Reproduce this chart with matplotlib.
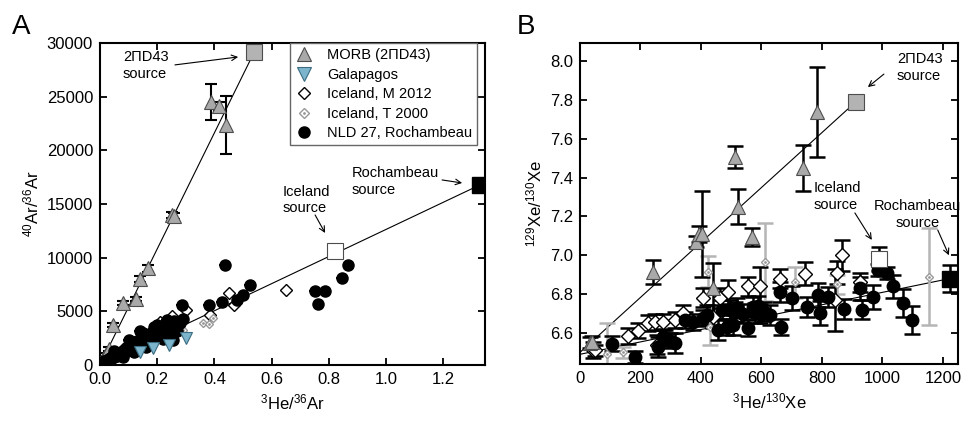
import numpy as np
import matplotlib.pyplot as plt
from matplotlib.lines import Line2D

plt.rcParams['font.family'] = ['Liberation Sans', 'DejaVu Sans']
plt.rcParams['mathtext.fontset'] = 'custom'
plt.rcParams['mathtext.rm'] = 'Liberation Sans'
plt.rcParams['mathtext.it'] = 'Liberation Sans:italic'

# ---------------- panel A : 40Ar/36Ar vs 3He/36Ar ----------------
morb_a_x = [0.005, 0.012, 0.02, 0.03, 0.046, 0.08, 0.126, 0.14, 0.168, 0.25, 0.26, 0.388, 0.415, 0.44]
morb_a_y = [300, 600, 1000, 1500, 3700, 5780, 6150, 8000, 9000, 14000, 13900, 24500, 24100, 22400]
morb_a_yerr = [100, 100, 150, 200, 200, 200, 200, 250, 300, 300, 300, 1700, 400, 2700]

gal_a_x = [0.14, 0.185, 0.24, 0.30]
gal_a_y = [1200, 1600, 1850, 2500]

icem_a_x = [0.005, 0.01, 0.02, 0.04, 0.06, 0.08, 0.1, 0.12, 0.15, 0.17, 0.21, 0.25, 0.30, 0.385, 0.45, 0.47, 0.65]
icem_a_y = [100, 300, 500, 800, 1100, 1500, 1800, 2000, 2500, 2900, 4000, 4570, 5100, 4650, 6700, 5600, 7000]

icet_a_x = [0.02, 0.05, 0.29, 0.36, 0.38, 0.395]
icet_a_y = [300, 700, 3300, 3900, 3800, 4350]

nld_a_x = [0.01, 0.015, 0.02, 0.025, 0.03, 0.035, 0.04, 0.045, 0.05, 0.055, 0.06, 0.065, 0.07,
           0.075, 0.08, 0.085, 0.09, 0.10, 0.105, 0.11, 0.12, 0.125, 0.13, 0.14, 0.145, 0.15,
           0.16, 0.17, 0.175, 0.18, 0.19, 0.20, 0.21, 0.22, 0.225, 0.23, 0.24, 0.245, 0.25,
           0.255, 0.26, 0.265, 0.27, 0.28, 0.29, 0.285, 0.38, 0.425, 0.437, 0.48, 0.50, 0.525,
           0.75, 0.785, 0.763, 0.845, 0.868,
           0.05, 0.08, 0.10, 0.12, 0.15, 0.16, 0.18, 0.20, 0.22, 0.19, 0.235]
nld_a_y = [200, 350, 250, 500, 400, 650, 550, 800, 700, 900, 800, 1000, 1100,
           950, 1300, 1150, 1500, 1400, 1700, 1550, 1900, 1700, 2200, 3200, 2000, 2500,
           2300, 2700, 2400, 3000, 2700, 3300, 2900, 3500, 3100, 2600, 3800, 3300, 2900,
           2300, 4100, 3600, 3200, 3900, 4300, 5600, 5600, 5900, 9300, 6100, 6500, 7450,
           6900, 6900, 5700, 8100, 9300,
           1300, 700, 2300, 1200, 3000, 1700, 2000, 3700, 2400, 3500, 4200]

# source end-members A
src_a_x = [0.54, 0.82, 1.33]
src_a_y = [29200, 10600, 16800]

# ---------------- panel B : 129Xe/130Xe vs 3He/130Xe ----------------
morb_b_x = [33, 40, 242, 385, 395, 402, 440, 512, 522, 569, 737, 783]
morb_b_y = [6.55, 6.554, 6.914, 7.07, 7.11, 7.11, 6.83, 7.506, 7.25, 7.094, 7.449, 7.737]
morb_b_yerr = [0.03, 0.03, 0.06, 0.03, 0.04, 0.22, 0.13, 0.055, 0.09, 0.045, 0.12, 0.23]

icem_b_x = [43, 50, 159, 192, 225, 248, 253, 274, 314, 341, 407, 440, 463, 489, 555, 595,
            661, 744, 843, 850, 866, 926]
icem_b_y = [6.513, 6.51, 6.585, 6.612, 6.651, 6.657, 6.54, 6.657, 6.667, 6.703, 6.782, 6.683,
            6.78, 6.81, 6.84, 6.84, 6.88, 6.906, 6.77, 6.91, 7.0, 6.86]
icem_b_yerr = [0.04, 0.03, 0.04, 0.04, 0.04, 0.04, 0.05, 0.04, 0.04, 0.04, 0.05, 0.06,
               0.05, 0.06, 0.05, 0.10, 0.05, 0.06, 0.16, 0.06, 0.08, 0.05]

icet_b_x = [89, 142, 423, 430, 612, 711, 850, 1154]
icet_b_y = [6.49, 6.50, 6.915, 6.63, 6.965, 6.86, 6.85, 6.89]
icet_b_yerr = [0.16, 0.03, 0.08, 0.09, 0.20, 0.08, 0.05, 0.25]

nld_b_x = [106, 182, 258, 274, 281, 298, 314, 347, 374, 407, 420, 456, 470, 486, 496, 506,
           512, 520, 540, 555, 572, 578, 590, 595, 610, 628, 661, 665, 701, 750, 787, 793,
           820, 873, 926, 932, 968, 985, 1015, 1035, 1068, 1097]
nld_b_y = [6.545, 6.476, 6.527, 6.58, 6.574, 6.56, 6.548, 6.667, 6.657, 6.677, 6.693, 6.615,
           6.72, 6.63, 6.718, 6.64, 6.708, 6.73, 6.70, 6.625, 6.734, 6.703, 6.74, 6.70, 6.71,
           6.693, 6.81, 6.63, 6.78, 6.734, 6.796, 6.703, 6.785, 6.724, 6.83, 6.72, 6.785,
           6.925, 6.909, 6.84, 6.754, 6.667]
nld_b_yerr = [0.04, 0.03, 0.05, 0.04, 0.04, 0.04, 0.05, 0.04, 0.04, 0.04, 0.05, 0.05,
              0.05, 0.04, 0.05, 0.05, 0.05, 0.05, 0.05, 0.04, 0.05, 0.05, 0.05, 0.05, 0.05,
              0.05, 0.05, 0.04, 0.06, 0.05, 0.06, 0.06, 0.05, 0.05, 0.06, 0.05, 0.06,
              0.03, 0.03, 0.06, 0.07, 0.07]

src_b_x = [912, 989, 1223]
src_b_y = [7.79, 6.98, 6.88]
src_b_yerr = [0.0, 0.06, 0.07]

gray_fill = '#a9a9a9'
gray_edge = '#4d4d4d'
blue_fill = '#7db5cc'
blue_edge = '#3b6c80'
tgray = '#999999'

fig = plt.figure(figsize=(9.61, 4.21), dpi=100)
axA = fig.add_axes([100/961, 56/421, 385/961, 322/421])
axB = fig.add_axes([580/961, 57/421, 378/961, 321/421])

# ---- A ----
axA.plot([0, src_a_x[0]], [0, src_a_y[0]], color='k', lw=0.8, zorder=1)
axA.plot([0, src_a_x[2]], [0, src_a_y[2]], color='k', lw=0.8, zorder=1)

axA.errorbar(morb_a_x, morb_a_y, yerr=morb_a_yerr, fmt='none', ecolor='k',
             elinewidth=1.5, capsize=4.5, capthick=1.5, zorder=2)
axA.plot(morb_a_x, morb_a_y, ls='none', marker='^', ms=9.5, mfc=gray_fill, mec=gray_edge,
         mew=0.8, zorder=3)
axA.plot(icem_a_x, icem_a_y, ls='none', marker='D', ms=6.5, mfc='white', mec='k',
         mew=1.0, zorder=3)
axA.plot(icet_a_x, icet_a_y, ls='none', marker='D', ms=4.5, mfc='white', mec=tgray,
         mew=1.0, zorder=3)
axA.plot(icet_a_x, icet_a_y, ls='none', marker='.', ms=2, color=tgray, zorder=3)
axA.errorbar(nld_a_x, nld_a_y, xerr=0.02, fmt='none', ecolor='k', elinewidth=1.5,
             capsize=0, zorder=3)
axA.plot(nld_a_x, nld_a_y, ls='none', marker='o', ms=8, mfc='k', mec='k', zorder=4)
axA.plot(gal_a_x, gal_a_y, ls='none', marker='v', ms=9, mfc=blue_fill, mec=blue_edge,
         mew=0.8, zorder=4.5)

axA.plot(src_a_x[0], src_a_y[0], marker='s', ms=11, mfc='#b3b3b3', mec=gray_edge, mew=0.8, zorder=5)
axA.plot(src_a_x[1], src_a_y[1], marker='s', ms=11, mfc='white', mec=gray_edge, mew=0.8, zorder=5)
axA.plot(src_a_x[2], src_a_y[2], marker='s', ms=11, mfc='k', mec='k', zorder=5)

arr = dict(arrowstyle='->', color='k', lw=0.8, shrinkA=0, shrinkB=0)
axA.text(0.08, 27900, '2\u03a0D43\nsource', fontsize=10.5, ha='left', va='center')
axA.annotate('', xy=(0.483, 28700), xytext=(0.262, 27960), arrowprops=arr)
axA.text(0.64, 15400, 'Iceland\nsource', fontsize=10.5, ha='left', va='center')
axA.annotate('', xy=(0.787, 12300), xytext=(0.752, 13980), arrowprops=arr)
axA.text(0.881, 17100, 'Rochambeau\nsource', fontsize=10.5, ha='left', va='center')
axA.annotate('', xy=(1.266, 16960), xytext=(1.196, 17240), arrowprops=arr)

axA.set_xlim(0, 1.346)
axA.set_ylim(0, 30000)
axA.set_xticks(np.arange(0, 1.21, 0.2))
axA.set_xticklabels(['0.0', '0.2', '0.4', '0.6', '0.8', '1.0', '1.2'])
axA.set_yticks(np.arange(0, 30001, 5000))
axA.set_xlabel(r'$^{3}$He/$^{36}$Ar', fontsize=12)
axA.set_ylabel(r'$^{40}$Ar/$^{36}$Ar', fontsize=12)

handles = [
    Line2D([], [], ls='none', marker='^', ms=9.5, mfc=gray_fill, mec=gray_edge, mew=0.8),
    Line2D([], [], ls='none', marker='v', ms=9.5, mfc=blue_fill, mec=blue_edge, mew=0.8),
    Line2D([], [], ls='none', marker='D', ms=6.5, mfc='white', mec='k', mew=1.0),
    (Line2D([], [], ls='none', marker='D', ms=5, mfc='white', mec=tgray, mew=1.0),
     Line2D([], [], ls='none', marker='.', ms=2, color=tgray)),
    Line2D([], [], ls='none', marker='o', ms=8, mfc='k', mec='k'),
]
labels = ['MORB (2\u03a0D43)', 'Galapagos', 'Iceland, M 2012', 'Iceland, T 2000',
          'NLD 27, Rochambeau']
leg = axA.legend(handles, labels, loc='upper left', bbox_to_anchor=(190/385, 1.0),
                 fontsize=10.5, frameon=True, fancybox=False, edgecolor='#666666',
                 framealpha=1, borderpad=0.35, labelspacing=0.38, handlelength=1.2,
                 handletextpad=1.0, borderaxespad=0)
leg.get_frame().set_linewidth(1.0)
leg.set_zorder(10)

# ---- B ----
axB.plot([0, src_b_x[0]], [6.50, src_b_y[0]], color='k', lw=0.8, zorder=1)
axB.plot([0, src_b_x[2]], [6.49, src_b_y[2]], color='k', lw=0.8, zorder=1)

eb = dict(fmt='none', elinewidth=1.8, capsize=6, capthick=1.8)
axB.errorbar(icet_b_x, icet_b_y, yerr=icet_b_yerr, ecolor='#b5b5b5', zorder=2, **eb)
axB.errorbar(icem_b_x, icem_b_y, yerr=icem_b_yerr, ecolor='k', zorder=2, **eb)
axB.errorbar(morb_b_x, morb_b_y, yerr=morb_b_yerr, ecolor='k', zorder=2, **eb)
axB.errorbar(nld_b_x, nld_b_y, yerr=nld_b_yerr, ecolor='k', zorder=2, **eb)
axB.errorbar(src_b_x[1:], src_b_y[1:], yerr=src_b_yerr[1:], ecolor='k', zorder=2, **eb)

axB.plot(icet_b_x, icet_b_y, ls='none', marker='D', ms=4.5, mfc='white', mec=tgray,
         mew=1.0, zorder=3)
axB.plot(icet_b_x, icet_b_y, ls='none', marker='.', ms=2, color=tgray, zorder=3)
axB.plot(icem_b_x, icem_b_y, ls='none', marker='D', ms=7.5, mfc='white', mec='k',
         mew=1.0, zorder=3)
axB.plot(morb_b_x, morb_b_y, ls='none', marker='^', ms=9.5, mfc=gray_fill, mec=gray_edge,
         mew=0.8, zorder=3)
axB.plot(nld_b_x, nld_b_y, ls='none', marker='o', ms=9, mfc='k', mec='k', zorder=4)

axB.plot(src_b_x[0], src_b_y[0], marker='s', ms=12, mfc='#b3b3b3', mec=gray_edge, mew=0.8, zorder=5)
axB.plot(src_b_x[1], src_b_y[1], marker='s', ms=12, mfc='white', mec=gray_edge, mew=0.8, zorder=5)
axB.plot(src_b_x[2], src_b_y[2], marker='s', ms=12, mfc='k', mec='k', zorder=5)

axB.text(1048, 7.967, '2\u03a0D43\nsource', fontsize=10.5, ha='left', va='center')
axB.annotate('', xy=(952, 7.866), xytext=(1005, 7.933), arrowprops=arr)
axB.text(774, 7.303, 'Iceland\nsource', fontsize=10.5, ha='left', va='center')
axB.annotate('', xy=(965, 7.079), xytext=(909, 7.218), arrowprops=arr)
axB.text(1117, 7.21, 'Rochambeau\nsource', fontsize=10.5, ha='center', va='center')
axB.annotate('', xy=(1220, 7.0), xytext=(1183, 7.13), arrowprops=arr)

axB.set_xlim(0, 1250)
axB.set_ylim(6.44, 8.093)
axB.set_xticks(np.arange(0, 1201, 200))
axB.set_yticks(np.arange(6.6, 8.01, 0.2))
axB.set_yticklabels(['6.6', '6.8', '7.0', '7.2', '7.4', '7.6', '7.8', '8.0'])
axB.set_xlabel(r'$^{3}$He/$^{130}$Xe', fontsize=12)
axB.set_ylabel(r'$^{129}$Xe/$^{130}$Xe', fontsize=12)

for ax in (axA, axB):
    ax.tick_params(direction='in', top=True, right=True, length=5, width=1.3,
                   labelsize=12, pad=5)
    for s in ax.spines.values():
        s.set_linewidth(1.5)

fig.text(12/961, 1 - 27/421, 'A', fontsize=20, va='center', ha='left')
fig.text(517/961, 1 - 27/421, 'B', fontsize=20, va='center', ha='left')

fig.savefig('out.png', dpi=100)
